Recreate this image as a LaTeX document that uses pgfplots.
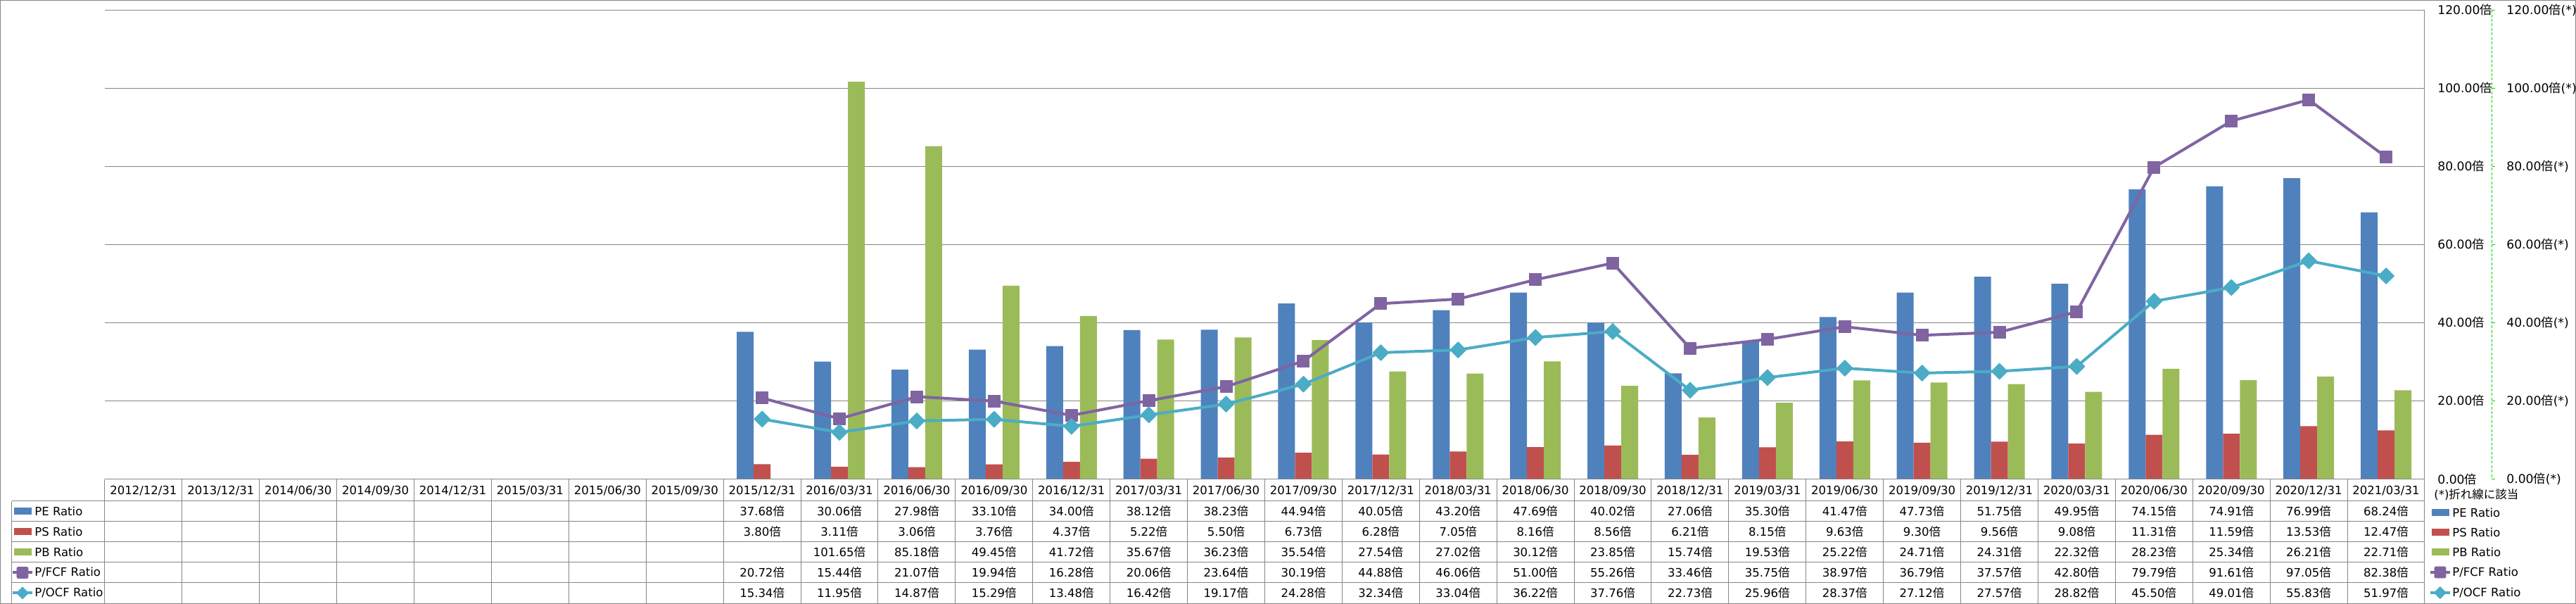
\documentclass[border=0pt]{standalone}
\usepackage{fontspec}
\setmainfont{DejaVu Sans}
\newfontfamily\cjk{Noto Sans CJK JP}
\usepackage{pgfplots}
\usepackage{pgfplotstable}
\pgfplotsset{compat=1.18}
\definecolor{peblue}{HTML}{4F81BD}
\definecolor{psred}{HTML}{C0504D}
\definecolor{pbgreen}{HTML}{9BBB59}
\definecolor{fcfpurple}{HTML}{8064A2}
\definecolor{ocfcyan}{HTML}{4BACC6}
\definecolor{gridgray}{HTML}{868686}
\definecolor{dashgreen}{HTML}{00D800}

\pgfplotstableread{
x PE PS PB FCF OCF
8 37.68 3.80 nan 20.72 15.34
9 30.06 3.11 101.65 15.44 11.95
10 27.98 3.06 85.18 21.07 14.87
11 33.10 3.76 49.45 19.94 15.29
12 34.00 4.37 41.72 16.28 13.48
13 38.12 5.22 35.67 20.06 16.42
14 38.23 5.50 36.23 23.64 19.17
15 44.94 6.73 35.54 30.19 24.28
16 40.05 6.28 27.54 44.88 32.34
17 43.20 7.05 27.02 46.06 33.04
18 47.69 8.16 30.12 51.00 36.22
19 40.02 8.56 23.85 55.26 37.76
20 27.06 6.21 15.74 33.46 22.73
21 35.30 8.15 19.53 35.75 25.96
22 41.47 9.63 25.22 38.97 28.37
23 47.73 9.30 24.71 36.79 27.12
24 51.75 9.56 24.31 37.57 27.57
25 49.95 9.08 22.32 42.80 28.82
26 74.15 11.31 28.23 79.79 45.50
27 74.91 11.59 25.34 91.61 49.01
28 76.99 13.53 26.21 97.05 55.83
29 68.24 12.47 22.71 82.38 51.97
}\datatable

\def\nanstr{nan}
\newcommand\barkey[4]{\fill[#1] (#2,#3-5) rectangle (#2+25,#3+5); \node[anchor=west,inner sep=0pt] at (#2+29,#3) {#4};}
\newcommand\fcfkey[3]{\draw[fcfpurple,line width=2bp] (#1,#2)--(#1+28,#2);
  \filldraw[fcfpurple,rounded corners=1bp] (#1+6,#2-8) rectangle (#1+22,#2+8);
  \node[anchor=west,inner sep=0pt] at (#1+31,#2) {#3};}
\newcommand\ocfkey[3]{\draw[ocfcyan,line width=2bp] (#1,#2)--(#1+28,#2);
  \fill[ocfcyan] (#1+14,#2-9)--(#1+23,#2)--(#1+14,#2+9)--(#1+5,#2)--cycle;
  \node[anchor=west,inner sep=0pt] at (#1+31,#2) {#3};}

\begin{document}
\begin{tikzpicture}
\useasboundingbox (0bp,0bp) rectangle (1830.5bp,-429bp);
\begin{axis}[
  at={(74.5bp,-340.25bp)}, anchor=south west,
  scale only axis, width=1648.5bp, height=333.1bp,
  xmin=-0.5, xmax=29.5, ymin=0, ymax=120,
  axis line style={draw=none},
  tick style={draw=none},
  major tick length=0pt,
  xtick=\empty,
  ytick={0,20,...,120},
  yticklabels={},
  ymajorgrids,
  major grid style={gridgray, line width=0.5bp},
  clip=false,
]
\addplot[ybar, bar width=12bp, bar shift=-12bp, fill=peblue, draw=none] table[x=x,y=PE]{\datatable};
\addplot[ybar, bar width=12bp, bar shift=0bp, fill=psred, draw=none] table[x=x,y=PS]{\datatable};
\addplot[ybar, bar width=12bp, bar shift=12bp, fill=pbgreen, draw=none] table[x=x,y=PB]{\datatable};
\addplot[fcfpurple, line width=2bp, line join=round, mark=square*, mark size=4.25bp,
  mark options={fill=fcfpurple, draw=fcfpurple, line width=0.5bp, rounded corners=1bp, solid}]
  table[x=x,y=FCF]{\datatable};
\addplot[ocfcyan, line width=2bp, line join=round, mark=square*, mark size=4bp,
  mark options={fill=ocfcyan, draw=ocfcyan, line width=0.5bp, rotate=45, solid}]
  table[x=x,y=OCF]{\datatable};
\end{axis}

\begin{scope}[x=0.5bp, y=-0.5bp, font=\fontsize{8.25bp}{9.5bp}\selectfont]
% outer border
\draw[gridgray, line width=0.5bp] (0.5,0.5) rectangle (3660.5,857.5);
% right axis line and table
\draw[gridgray, line width=0.5bp] (3446,14.3)--(3446,857);
\foreach \i in {0,...,29} {\draw[gridgray, line width=0.5bp] ({149+109.9*\i},681)--({149+109.9*\i},857);}
\draw[gridgray, line width=0.5bp] (149,681)--(3446,681);
\draw[gridgray, line width=0.5bp] (16.7,712)--(16.7,857);
\foreach \yy in {712,741,770,799,828} {\draw[gridgray, line width=0.5bp] (16.7,\yy)--(3446,\yy);}
% header labels
\foreach \d [count=\i from 0] in {2012/12/31,2013/12/31,2014/06/30,2014/09/30,2014/12/31,2015/03/31,2015/06/30,2015/09/30,2015/12/31,2016/03/31,2016/06/30,2016/09/30,2016/12/31,2017/03/31,2017/06/30,2017/09/30,2017/12/31,2018/03/31,2018/06/30,2018/09/30,2018/12/31,2019/03/31,2019/06/30,2019/09/30,2019/12/31,2020/03/31,2020/06/30,2020/09/30,2020/12/31,2021/03/31}
  {\node[inner sep=0pt] at ({149+109.9*(\i+0.5)},697) {\d};}
% cells
\foreach \r in {0,...,21} {
  \pgfplotstablegetelem{\r}{x}\of\datatable \global\let\cx\pgfplotsretval
  \foreach \col/\yy in {PE/726.5,PS/755.5,PB/784.5,FCF/813.5,OCF/842.5} {
    \pgfplotstablegetelem{\r}{\col}\of\datatable
    \ifx\pgfplotsretval\nanstr\else
      \node[inner sep=0pt] at ({149+109.9*(\cx+0.5)},\yy) {\pgfplotsretval{\cjk 倍}};
    \fi
  }
}
% row labels
\barkey{peblue}{20}{726.5}{PE Ratio}
\barkey{psred}{20}{755.5}{PS Ratio}
\barkey{pbgreen}{20}{784.5}{PB Ratio}
\fcfkey{18}{813.5}{P/FCF Ratio}
\ocfkey{18}{842.5}{P/OCF Ratio}
% right legend
\barkey{peblue}{3456}{728}{PE Ratio}
\barkey{psred}{3456}{756}{PS Ratio}
\barkey{pbgreen}{3456}{784}{PB Ratio}
\fcfkey{3454}{813}{P/FCF Ratio}
\ocfkey{3454}{842}{P/OCF Ratio}
% right axis labels
\foreach \v/\t in {0/0.00,20/20.00,40/40.00,60/60.00,80/80.00,100/100.00,120/120.00} {
  \node[anchor=west, inner sep=0pt, font=\fontsize{8.6bp}{10bp}\selectfont] at (3464,{680.5-5.5517*\v}) {\t{\cjk 倍}};
  \node[anchor=west, inner sep=0pt, font=\fontsize{8.6bp}{10bp}\selectfont] at (3562,{680.5-5.5517*\v}) {\t{\cjk 倍}(*)};
  \draw[dashgreen, line width=0.5bp] (3541.7,{680.5-5.5517*\v})--++(4,0);
}
\draw[dashgreen, line width=0.5bp, dash pattern=on 2bp off 1.2bp] (3541.7,14.3)--(3541.7,680.5);
\node[anchor=west, inner sep=0pt] at (3459,703) {(*){\cjk 折れ線に該当}};
\end{scope}
\end{tikzpicture}
\end{document}
